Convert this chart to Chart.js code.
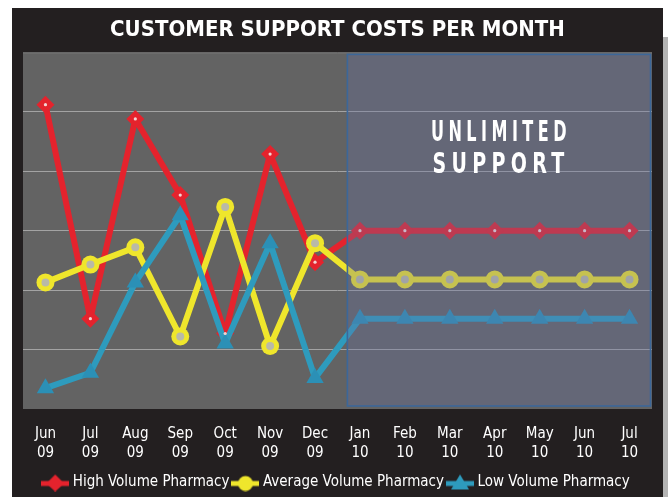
<!DOCTYPE html>
<html>
<head>
<meta charset="utf-8">
<script src="https://cdn.jsdelivr.net/npm/chart.js@4/dist/chart.umd.min.js"></script>
<style>
  html, body { margin: 0; padding: 0; background: #fff; }
  canvas { display: block; }
</style>
</head>
<body>
<canvas id="costes" width="668" height="497"></canvas>
<script>
// datos
const meses = ['Jun','Jul','Aug','Sep','Oct','Nov','Dec','Jan','Feb','Mar','Apr','May','Jun','Jul'];
const anios = ['09','09','09','09','09','09','09','10','10','10','10','10','10','10'];
const altoVolumen  = [5.12, 1.52, 4.88, 3.6, 1.27, 4.29, 2.47, 3, 3, 3, 3, 3, 3, 3];
const medioVolumen = [2.13, 2.43, 2.72, 1.22, 3.4, 1.06, 2.79, 2.18, 2.18, 2.18, 2.18, 2.18, 2.18, 2.18];
const bajoVolumen  = [0.35, 0.61, 2.13, 3.26, 1.1, 2.79, 0.52, 1.52, 1.52, 1.52, 1.52, 1.52, 1.52, 1.52];
const primerMesIlimitado = 7; // Jan 10

const ROJO = '#e4232d', AMARILLO = '#efe62c', AZUL = '#2e9bbd';

// iconos de la leyenda: trozo de linea + marcador
function icono(color, tipo) {
  const c = document.createElement('canvas');
  c.width = 28; c.height = 18;
  const g = c.getContext('2d');
  g.strokeStyle = color; g.lineWidth = 5;
  g.beginPath(); g.moveTo(0, 10); g.lineTo(28, 10); g.stroke();
  g.fillStyle = color;
  g.beginPath();
  if (tipo === 'rombo') { g.moveTo(14, 1); g.lineTo(23, 10); g.lineTo(14, 18); g.lineTo(5, 10); }
  else if (tipo === 'circulo') { g.arc(14, 10, 7.5, 0, Math.PI * 2); }
  else { g.moveTo(14, 1); g.lineTo(23, 16); g.lineTo(5, 16); }
  g.closePath(); g.fill();
  return c;
}
const iconos = [icono(ROJO, 'rombo'), icono(AMARILLO, 'circulo'), icono(AZUL, 'triangulo')];

const fondo = {
  id: 'fondo',
  beforeDraw(chart) {
    const ctx = chart.ctx, a = chart.chartArea;
    ctx.save();
    ctx.fillStyle = '#ffffff';
    ctx.fillRect(0, 0, chart.width, chart.height);
    ctx.fillStyle = '#231f20';
    ctx.fillRect(12, 8, 651, chart.height - 8);
    ctx.fillStyle = '#b4b4b4';
    ctx.fillRect(663, 37, 5, chart.height - 37);
    ctx.fillStyle = '#636363';
    ctx.fillRect(a.left, a.top, a.right - a.left, a.bottom - a.top);
    ctx.strokeStyle = '#7c7c7c'; ctx.lineWidth = 1;
    ctx.beginPath(); ctx.moveTo(a.left, a.top + 0.5); ctx.lineTo(a.right, a.top + 0.5); ctx.stroke();
    ctx.restore();
  },
  afterDatasetsDraw(chart) {
    const ctx = chart.ctx, a = chart.chartArea, x = chart.scales.x;
    ctx.save();
    // puntos centrales de los marcadores
    chart.data.datasets.forEach((ds, i) => {
      if (i === 2) return;
      chart.getDatasetMeta(i).data.forEach(p => {
        ctx.fillStyle = i === 0 ? '#f4d4d4' : '#b9b9a8';
        ctx.beginPath(); ctx.arc(p.x, p.y, i === 0 ? 1.6 : 4, 0, Math.PI * 2); ctx.fill();
      });
    });
    // zona "unlimited support"
    const x0 = x.getPixelForValue(primerMesIlimitado - 1), x1 = x.getPixelForValue(primerMesIlimitado);
    const izq = x0 + 0.72 * (x1 - x0), der = a.right - 1.5;
    const arr = a.top + 2, abj = a.bottom - 3;
    ctx.fillStyle = 'rgba(104,112,165,0.3)';
    ctx.fillRect(izq, arr, der - izq, abj - arr);
    ctx.strokeStyle = '#3c6799'; ctx.lineWidth = 1.6;
    ctx.strokeRect(izq, arr, der - izq, abj - arr);
    // texto
    const cx = (izq + der) / 2;
    ctx.fillStyle = '#ffffff';
    ctx.font = 'bold 28px "DejaVu Sans Condensed", sans-serif';
    ctx.letterSpacing = '7px';
    ctx.textAlign = 'center'; ctx.textBaseline = 'middle';
    [['UNLIMITED', 134, 140], ['SUPPORT', 166, 137]].forEach(([t, y, w]) => {
      const m = ctx.measureText(t).width;
      ctx.save();
      ctx.translate(cx + 2, y);
      ctx.scale(w / m, 1);
      ctx.fillText(t, 0, 0);
      ctx.restore();
    });
    ctx.restore();
  }
};

new Chart(document.getElementById('costes'), {
  type: 'line',
  data: {
    labels: meses.map((m, i) => [m, anios[i]]),
    datasets: [
      { label: 'High Volume Pharmacy', data: altoVolumen, borderColor: ROJO, backgroundColor: ROJO,
        pointStyle: 'rectRot', pointRadius: 9, order: 3 },
      { label: 'Average Volume Pharmacy', data: medioVolumen, borderColor: AMARILLO, backgroundColor: AMARILLO,
        pointStyle: 'circle', pointRadius: 9, order: 2 },
      { label: 'Low Volume Pharmacy', data: bajoVolumen, borderColor: AZUL, backgroundColor: '#2b90b6',
        pointStyle: 'triangle', pointRadius: 10, order: 1 }
    ]
  },
  options: {
    responsive: false,
    animation: false,
    devicePixelRatio: 1,
    elements: {
      line: { borderWidth: 6, tension: 0, borderJoinStyle: 'round', borderCapStyle: 'round' },
      point: { borderWidth: 0, hoverRadius: 9 }
    },
    layout: { padding: { top: 8, left: 23, right: 16, bottom: -3 } },
    scales: {
      x: {
        offset: true,
        grid: { display: false, drawTicks: false },
        border: { display: false },
        ticks: { color: '#ffffff', padding: 16, maxRotation: 0, autoSkip: false,
          font: { family: '"DejaVu Sans Condensed", sans-serif', size: 15, lineHeight: 1.25 } },
        afterFit: s => { s.height = 60; }
      },
      y: {
        min: 0, max: 6,
        ticks: { display: false, stepSize: 1 },
        border: { display: false },
        grid: { drawTicks: false, lineWidth: 1,
          color: c => (c.tick.value > 0 && c.tick.value < 6) ? '#a3a3a3' : 'rgba(0,0,0,0)' }
      }
    },
    plugins: {
      title: {
        display: true, text: 'CUSTOMER SUPPORT COSTS PER MONTH', color: '#ffffff',
        font: { family: '"DejaVu Sans Condensed", sans-serif', size: 22, weight: 'bold', lineHeight: 1.2 },
        padding: { top: 9, bottom: 9 }
      },
      legend: {
        position: 'bottom',
        labels: {
          color: '#ffffff', usePointStyle: true, pointStyleWidth: 20, padding: 6,
          font: { family: '"DejaVu Sans Condensed", sans-serif', size: 15 },
          generateLabels: chart => chart.data.datasets.map((ds, i) => ({
            text: ds.label, pointStyle: iconos[i], fontColor: '#ffffff',
            strokeStyle: ds.borderColor, fillStyle: ds.borderColor, lineWidth: 0, datasetIndex: i
          }))
        }
      },
      tooltip: { enabled: false }
    }
  },
  plugins: [fondo]
});
</script>
</body>
</html>
